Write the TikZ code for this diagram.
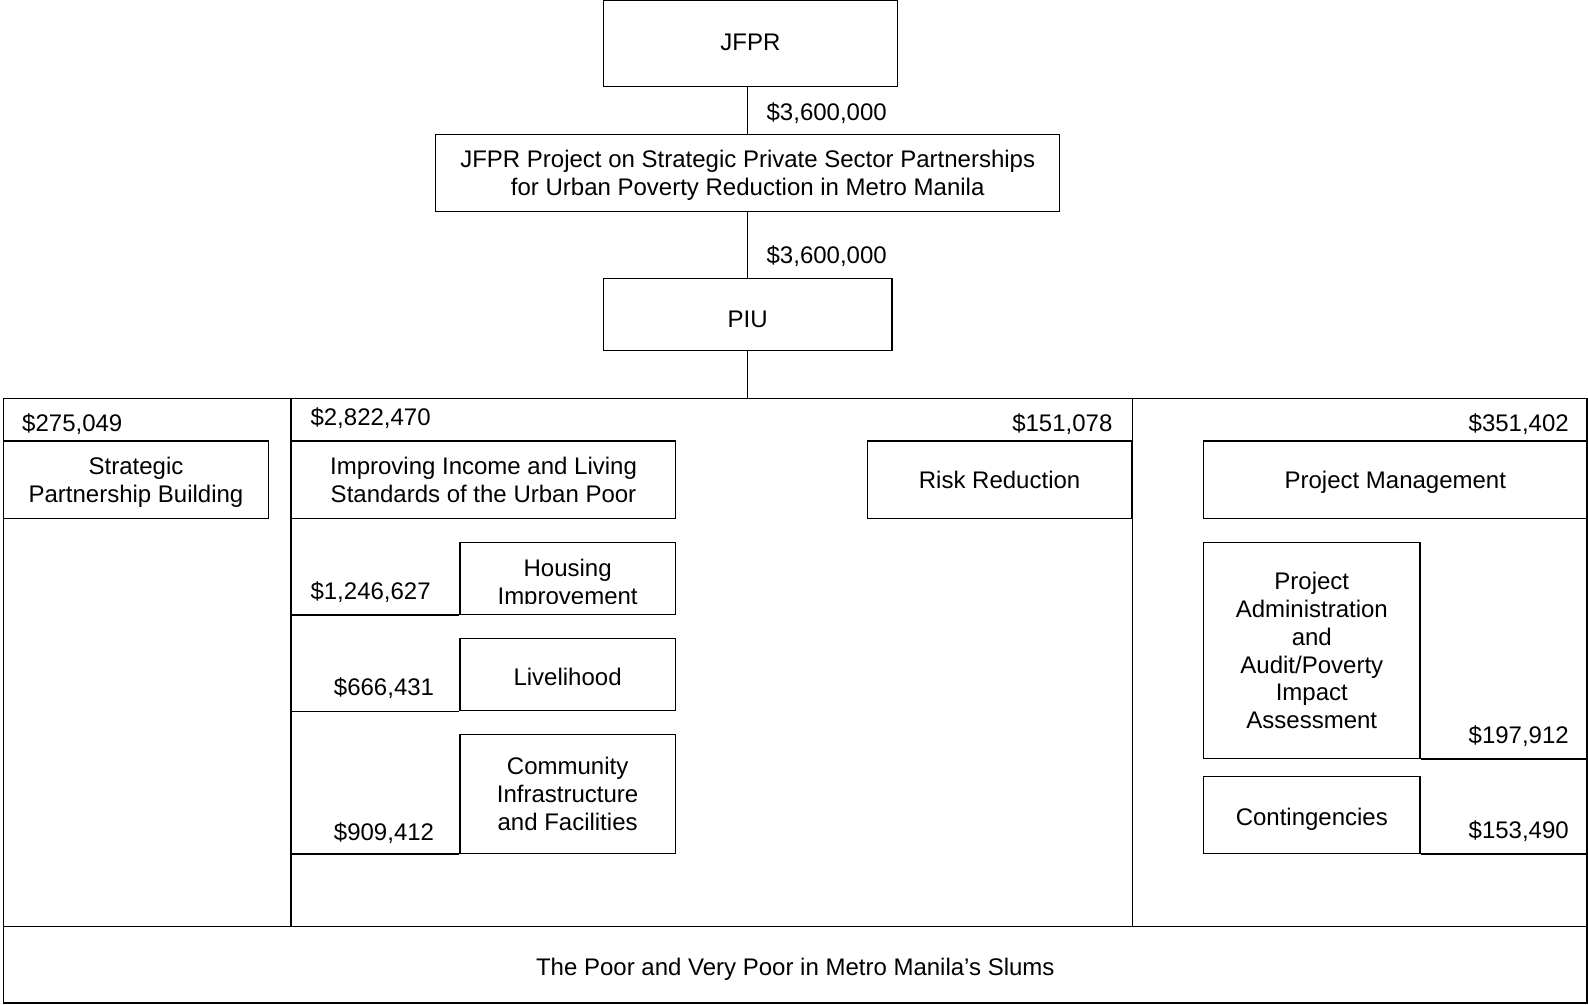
\documentclass[tikz,border=0pt]{standalone}
\usepackage{fontspec}
\setmainfont{Liberation Sans}
\usepackage{tikz}

\tikzset{
  box/.style={draw, line width=0.7pt, align=center, inner sep=2pt},
  single/.style={text height=#1, text depth=0pt},
  single/.default=8.6pt,
  multi/.style={text depth=0pt},
  amount/.style={inner sep=0pt, text height=8.6pt, text depth=0pt},
}

\begin{document}
\begin{tikzpicture}[x=0.5pt, y=-0.5pt, line width=0.7pt, font=\fontsize{12}{13.9}\selectfont]
            \useasboundingbox (0,0) rectangle (1588,1005);
            % top of the chart
            \node (jfpr) [box, single=7pt, minimum width=146.9pt, minimum height=43.4pt] at (750.4,43.3) {JFPR};
            \node (proj) [box, multi, minimum width=312pt, minimum height=38.5pt] at (747.7,173.2) {JFPR Project on Strategic Private Sector Partnerships\\for Urban Poverty Reduction in Metro Manila};
            \node (piu) [box, single=13.3pt, minimum width=144.2pt, minimum height=36pt] at (747.7,314.3) {PIU};
            \coordinate (top) at (747.7,398.3);
            \draw (proj.north |- jfpr.south) -- (proj.north);
            \draw (proj.south) -- (piu.north);
            \draw (piu.south) -- (top);
            \node (amt1) [amount] at (826.7,111.7) {\$3,600,000};
            \node (amt2) [amount] at (826.7,255) {\$3,600,000};

            % frame and columns
            \draw (3.6,398.3) rectangle (1587,1003);
            \node (poor) [box, single=10.9pt, minimum width=791.7pt, minimum height=38.2pt] at (795.3,964.9) {The Poor and Very Poor in Metro Manila’s Slums};
            \node (spb) [box, multi, minimum width=132.3pt, minimum height=38.7pt] at (136,479.7) {Strategic\\Partnership Building};
            \node (income) [box, multi, minimum width=192pt, minimum height=38.7pt] at (483.5,479.7) {Improving Income and Living\\Standards of the Urban Poor};
            \node (risk) [box, single, minimum width=131.9pt, minimum height=38.7pt] at (999.6,479.7) {Risk Reduction};
            \node (pm) [box, single, minimum width=191.8pt, minimum height=38.7pt] at (1395.3,479.7) {Project Management};
            \draw (income.west |- top) -- (income.west |- poor.north);
            \draw (risk.east |- top) -- (risk.east |- poor.north);

            \node (spbamt) [amount] at (72.3,422.7) {\$275,049};
            \node (incomeamt) [amount] at (370.6,417.3) {\$2,822,470};
            \node (riskamt) [amount] at (1062.3,422.7) {\$151,078};
            \node (pmamt) [amount] at (1518.7,422.7) {\$351,402};

            % sub components
            \node (housing) [box, minimum width=107.8pt, minimum height=35.8pt] at (567.6,578.5) {};
            \begin{scope}
              \clip (455,540) rectangle (680,603);
              \node (housingtext) [align=center, inner sep=0pt, multi] at (567.6,581.7) {Housing\\Improvement};
            \end{scope}
            \node (livelihood) [box, single=10.6pt, minimum width=107.8pt, minimum height=36.2pt] at (567.6,674.5) {Livelihood};
            \node (community) [box, multi, minimum width=107.8pt, minimum height=59.5pt] at (567.6,793.8) {Community\\Infrastructure\\and Facilities};
            \node (admin) [box, multi, minimum width=108.2pt, minimum height=107.8pt] at (1311.8,650.5) {Project\\Administration\\and\\Audit/Poverty\\Impact\\Assessment};
            \node (contingencies) [box, single=10.9pt, minimum width=108.2pt, minimum height=38.3pt] at (1311.8,815) {Contingencies};
            \draw (housing.south west) -- (housing.south west -| income.west);
            \draw (livelihood.south west) -- (livelihood.south west -| income.west);
            \draw (community.south west) -- (community.south west -| income.west);
            \draw (admin.south east) -- (admin.south east -| pm.east);
            \draw (contingencies.south east) -- (contingencies.south east -| pm.east);

            \node (housingamt) [amount] at (370.6,590.7) {\$1,246,627};
            \node (livelihoodamt) [amount] at (384,686.7) {\$666,431};
            \node (communityamt) [amount] at (384,831.7) {\$909,412};
            \node (adminamt) [amount] at (1518.7,735) {\$197,912};
            \node (contingenciesamt) [amount] at (1518.7,830) {\$153,490};
        \end{tikzpicture}
\end{document}
